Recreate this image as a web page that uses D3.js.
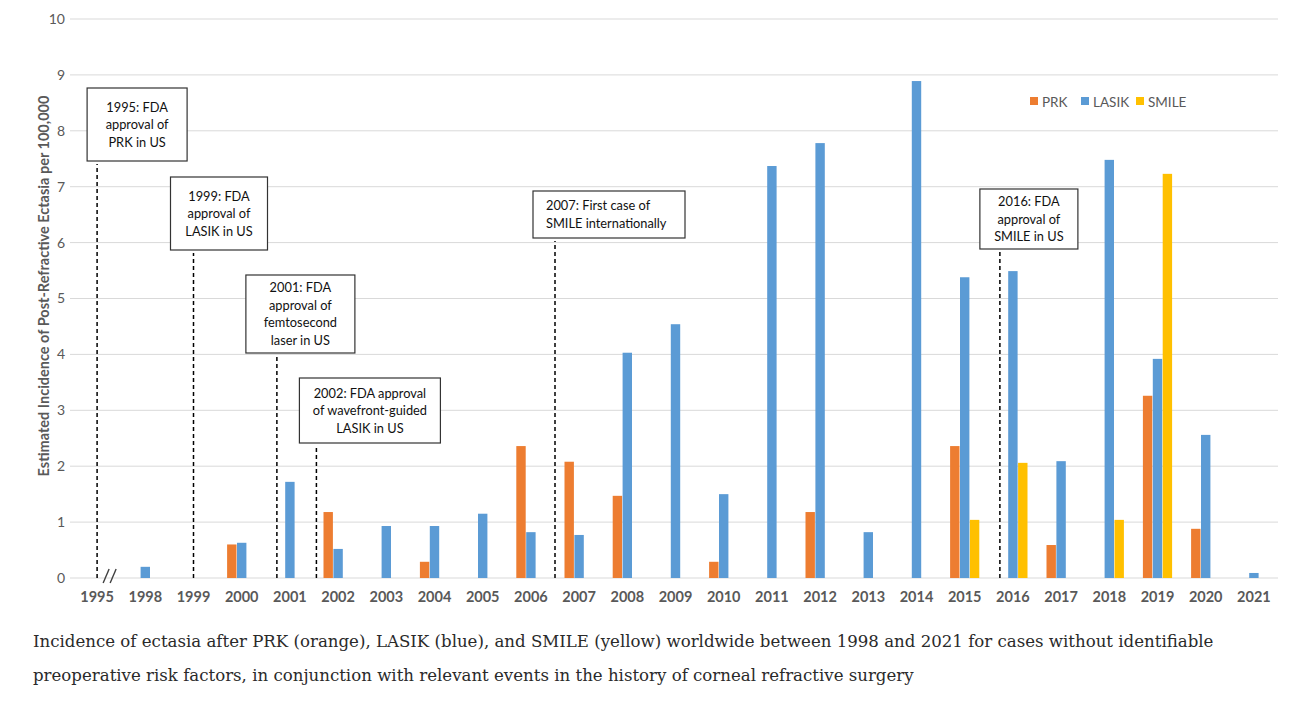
<!DOCTYPE html>
<html><head><meta charset="utf-8">
<script src="https://cdn.jsdelivr.net/npm/d3@7"></script>
<style>
html,body{margin:0;padding:0;background:#fff;}
svg{display:block;}
</style></head>
<body>
<svg id="chart" width="1299" height="708"></svg>
<script>
const categories = ["1995","1998","1999","2000","2001","2002","2003","2004","2005","2006","2007","2008","2009","2010","2011","2012","2013","2014","2015","2016","2017","2018","2019","2020","2021"];
const prk   = [0,0,0,0.6,0,1.18,0,0.29,0,2.36,2.08,1.47,0,0.29,0,1.18,0,0,2.36,0,0.59,0,3.26,0.88,0];
const lasik = [0,0.2,0,0.63,1.72,0.52,0.93,0.93,1.15,0.82,0.77,4.03,4.54,1.5,7.37,7.78,0.82,8.89,5.38,5.49,2.09,7.48,3.92,2.56,0.09];
const smile = [0,0,0,0,0,0,0,0,0,0,0,0,0,0,0,0,0,0,1.04,2.06,0,1.04,7.23,0,0];
const seriesNames = ["PRK","LASIK","SMILE"];
const yTicks = [0,1,2,3,4,5,6,7,8,9,10];
const eventCats = ["1995","1999","2000","2001","2006","2015"];
const eventFrac = [0, 0, 0.73, 0.55, 0.5, 0.73];
const eventText = [
  ["1995: FDA","approval of","PRK in US"],
  ["1999: FDA","approval of","LASIK in US"],
  ["2001: FDA","approval of","femtosecond","laser in US"],
  ["2002: FDA approval","of wavefront-guided","LASIK in US"],
  ["2007: First case of","SMILE internationally"],
  ["2016: FDA","approval of","SMILE in US"]
];
const caption = ["Incidence of ectasia after PRK (orange), LASIK (blue), and SMILE (yellow) worldwide between 1998 and 2021 for cases without identifiable",
  "preoperative risk factors, in conjunction with relevant events in the history of corneal refractive surgery"];

// layout (pixels) for annotation boxes: dx of box left from line, top, width, height
const boxLayout = [
  {dx:-10, top:88, w:100, h:73, align:"middle"},
  {dx:-23, top:177, w:97, h:73, align:"middle"},
  {dx:-31, top:275, w:109, h:78, align:"middle"},
  {dx:-17, top:378, w:141, h:65, align:"middle"},
  {dx:-22, top:191, w:152, h:47, align:"start"},
  {dx:-20, top:189, w:98, h:60, align:"middle"}
];
const colors = ["#ED7D31","#5B9BD5","#FFC000"];
const svg = d3.select("#chart");
const font = "Lato, 'Open Sans', sans-serif";
const m = {left:73, right:1278, top:19, bottom:578};
const x = d3.scaleBand().domain(categories).range([m.left, m.right]);
const y = d3.scaleLinear().domain([0,10]).range([m.bottom, m.top]);
const xs = d3.scaleBand().domain(seriesNames).range([-14.6, 14.6]).paddingInner(0.05);

// gridlines
svg.append("g").selectAll("line").data(yTicks).join("line")
  .attr("x1",70).attr("x2",1278).attr("y1",d=>y(d)).attr("y2",d=>y(d))
  .attr("stroke","#d9d9d9").attr("stroke-width",1);
// y axis labels
const yAxis = d3.axisLeft(y).tickValues(yTicks).tickSize(0).tickPadding(0);
const ya = svg.append("g").attr("transform","translate(65,0)").call(yAxis);
ya.select(".domain").remove();
ya.selectAll("text").attr("font-family",font).attr("font-size",14).attr("fill","#595959");

// x axis labels
const xAxis = d3.axisBottom(x).tickSize(0).tickPadding(0);
const xa = svg.append("g").attr("transform",`translate(0,${m.bottom+14})`).call(xAxis);
xa.select(".domain").remove();
xa.selectAll("text").attr("font-family",font).attr("font-size",14.5).attr("font-weight","bold").attr("fill","#595959");

// bars
const data = [prk,lasik,smile];
data.forEach((vals,si)=>{
  svg.append("g").selectAll("rect").data(vals.map((v,i)=>({v,c:categories[i]})).filter(d=>d.v>0)).join("rect")
    .attr("x",d=>x(d.c)+x.bandwidth()/2+xs(seriesNames[si]))
    .attr("width",xs.bandwidth())
    .attr("y",d=>y(d.v)).attr("height",d=>y(0)-y(d.v))
    .attr("fill",colors[si]);
});

// axis break mark
const bx = x("1995")+x.bandwidth()*0.76;
[-3.5,3.5].forEach(o=>{
  svg.append("line").attr("x1",bx+o-3).attr("x2",bx+o+3).attr("y1",m.bottom+5).attr("y2",m.bottom-9)
   .attr("stroke","#404040").attr("stroke-width",1.4);
});

// events
eventCats.forEach((c,i)=>{
  const lx = x(c)+x.bandwidth()/2 + eventFrac[i]*x.step();
  const L = boxLayout[i];
  svg.append("line").attr("x1",lx).attr("x2",lx).attr("y1",m.bottom).attr("y2",L.top+L.h+3)
    .attr("stroke","#000").attr("stroke-width",1.5).attr("stroke-dasharray","4,3");
  const bxl = lx + L.dx;
  svg.append("rect").attr("x",bxl).attr("y",L.top).attr("width",L.w).attr("height",L.h)
    .attr("fill","#fff").attr("stroke","#333").attr("stroke-width",1.2);
  const lines = eventText[i];
  const lh = 17.5;
  const startY = L.top + L.h/2 - (lines.length-1)*lh/2 + 4.5;
  const tx = L.align==="middle" ? bxl+L.w/2 : bxl+13;
  lines.forEach((t,j)=>{
    svg.append("text").attr("x",tx).attr("y",startY+j*lh).attr("text-anchor",L.align)
      .attr("font-family",font).attr("font-size",12.8).attr("fill","#111").text(t);
  });
});

// legend
const lg = svg.append("g");
const legX = [1030,1081,1136];
seriesNames.forEach((s,i)=>{
  lg.append("rect").attr("x",legX[i]).attr("y",97).attr("width",8).attr("height",8).attr("fill",colors[i]);
  lg.append("text").attr("x",legX[i]+12).attr("y",106.5).attr("font-family",font).attr("font-size",13.5).attr("fill","#595959").text(s);
});

// y axis title
svg.append("text").attr("transform","translate(49,286) rotate(-90)").attr("text-anchor","middle")
  .attr("font-family",font).attr("font-size",14.5).attr("font-weight","bold").attr("fill","#595959")
  .text("Estimated Incidence of Post-Refractive Ectasia per 100,000");

// caption
caption.forEach((t,i)=>{
  svg.append("text").attr("x",33).attr("y",647+i*34).attr("font-family","'DejaVu Serif', serif")
    .attr("font-size",16.6).attr("fill","#2a2a2a").text(t);
});
</script>
</body></html>
